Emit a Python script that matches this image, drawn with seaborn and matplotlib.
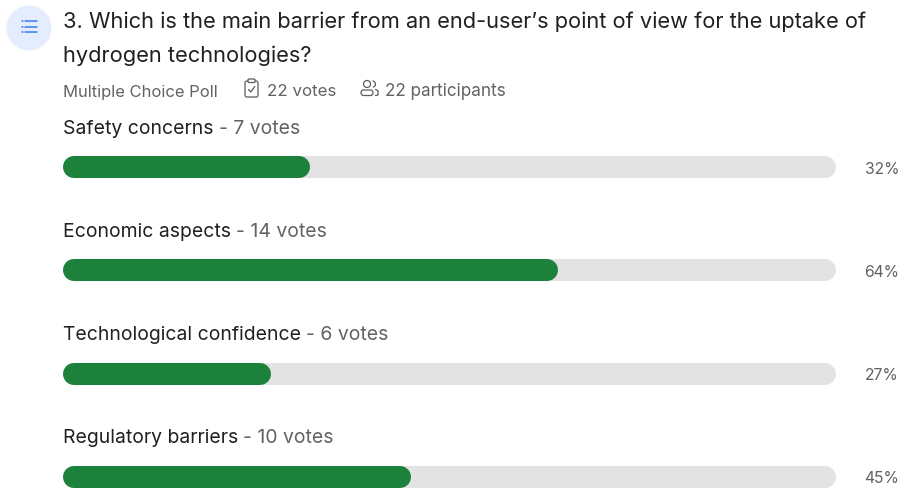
import matplotlib
matplotlib.use("Agg")
import matplotlib.pyplot as plt
import pandas as pd
import seaborn as sns
from matplotlib.patches import Circle, FancyBboxPatch
from matplotlib.lines import Line2D
from matplotlib.transforms import Affine2D, IdentityTransform

question = ["3. Which is the main barrier from an end-user\u2019s point of view for the uptake of",
            "hydrogen technologies?"]
poll_type = "Multiple Choice Poll"
vote_total = "22 votes"
participant_total = "22 participants"
categories = ["Safety concerns", "Economic aspects", "Technological confidence", "Regulatory barriers"]
votes = [7, 14, 6, 10]
percents = [32, 64, 27, 45]
track_full = [100, 100, 100, 100]

W, H = 902, 488
GREEN, TRACK = "#1b813b", "#e3e3e3"
DARK, GREY = "#1f2024", "#606266"

sns.set_theme(style="white")
plt.rcParams["font.family"] = ["Inter", "DejaVu Sans"]

fig = plt.figure(figsize=(W / 100, H / 100), dpi=100, facecolor="white")
ax = fig.add_axes([62.5 / W, 0, 773.5 / W, 1])
px = Affine2D().scale(1, -1).translate(0, H)  # y-down pixel space for the header


def text(x, y, s, size, color, **kw):
    return fig.text(x, y, s, fontsize=size, color=color, transform=px, va="baseline", **kw)


# Progress bars: grey tracks first, then the green share on top
frame = pd.DataFrame({"option": categories, "percent": percents, "track": track_full})
sns.barplot(frame, y="option", x="track", color=TRACK, saturation=1, width=0.213, orient="h", ax=ax)
sns.barplot(frame, y="option", x="percent", color=GREEN, saturation=1, width=0.213, orient="h", ax=ax)
ax.set_xlim(0, 100)
ax.set_ylim(3.106, -1.616)
ax.axis("off")

# Swap the square bars for round-capped strokes of the same extent
for order, bar in enumerate(list(ax.patches)):
    (x0, y0), (x1, y1) = ax.transData.transform(
        [(bar.get_x(), bar.get_y() + bar.get_height()), (bar.get_x() + bar.get_width(), bar.get_y())])
    thickness = y1 - y0
    r = thickness / 2
    pill = Line2D([x0 + r, x1 - r], [y0 + r, y0 + r], color=bar.get_facecolor(), lw=thickness * 0.72,
                  solid_capstyle="round", transform=IdentityTransform(), zorder=2 + order * 0.01)
    bar.remove()
    ax.add_artist(pill)

# Option captions and percentage labels
fig.canvas.draw()
renderer = fig.canvas.get_renderer()
for i, (name, n, pct) in enumerate(zip(categories, votes, percents)):
    base = 134 + 103.1 * i
    name_text = text(62.7, base, name, 13.95, DARK)
    end = name_text.get_window_extent(renderer).x1
    text(end + 5.5, base, f"- {n} votes", 13.95, GREY)
    text(899, 173.5 + 103.3 * i, f"{pct}%", 11.3, GREY, ha="right")

# Header text
text(63, 28.5, question[0], 15.73, DARK)
text(63, 62, question[1], 15.73, DARK)
text(63, 96.5, poll_type, 11.95, GREY)
text(267, 96, vote_total, 12.2, GREY)
text(385, 96, participant_total, 12.3, GREY)

# Round badge holding a list glyph
fig.add_artist(Circle((29, 28), 22.5, facecolor="#e4edfd", edgecolor="none", transform=px))
for y in (21, 26.7, 32):
    fig.add_artist(Line2D([25, 36.5], [y, y], color="#3b78f5", lw=1.1, transform=px))
    fig.add_artist(Line2D([21.8, 22.6], [y, y], color="#3b78f5", lw=1.1, transform=px))

# Clipboard glyph
ICON = "#5a5c60"
fig.add_artist(FancyBboxPatch((245, 81), 13, 16, boxstyle="round,pad=0,rounding_size=2", facecolor="none",
                              edgecolor=ICON, lw=0.9, transform=px))
fig.add_artist(FancyBboxPatch((248, 79), 7, 3.5, boxstyle="round,pad=0,rounding_size=1", facecolor="white",
                              edgecolor=ICON, lw=0.9, transform=px))
fig.add_artist(Line2D([248.5, 250.8, 254.8], [89.5, 92, 86.5], color=ICON, lw=0.9, transform=px))

# People glyph
fig.add_artist(Circle((367, 84), 3.5, facecolor="none", edgecolor=ICON, lw=0.9, transform=px))
fig.add_artist(FancyBboxPatch((361, 90), 12, 5.5, boxstyle="round,pad=0,rounding_size=2.6", facecolor="none",
                              edgecolor=ICON, lw=0.9, transform=px))
fig.add_artist(Line2D([373, 375.2, 375.4, 373.5], [80.8, 82.5, 85.5, 87.2], color=ICON, lw=0.9, transform=px))
fig.add_artist(Line2D([375.5, 378, 378, 375.5], [89.5, 90.8, 95, 95.5], color=ICON, lw=0.9, transform=px))

fig.savefig("out.png", dpi=100, facecolor="white")
